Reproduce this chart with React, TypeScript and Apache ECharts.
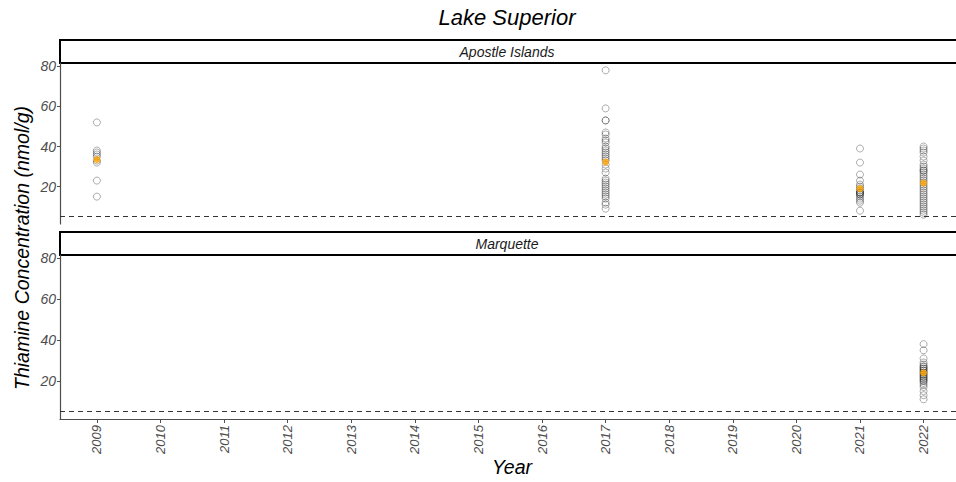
import { useEffect, useRef } from "react";
import * as echarts from "echarts";

// Tick labels
const years = [2009, 2010, 2011, 2012, 2013, 2014, 2015, 2016, 2017, 2018, 2019, 2020, 2021, 2022];
const yTicks = [20, 40, 60, 80];

// Threshold line (nmol/g)
const threshold = 5;

// Apostle Islands samples by year
const apostle2009 = [52, 38, 37, 36, 35, 33, 32, 23, 15];
const apostle2017 = [78, 59, 53, 53, 47, 46, 44, 43, 42, 40, 39, 38, 37, 36, 35, 34, 33, 31, 29, 27, 24, 23, 22, 21, 20, 19, 18, 17, 16, 15, 14, 12, 11, 9];
const apostle2021 = [39, 32, 26, 23, 21, 20, 19, 18, 17, 17, 17, 16, 16, 15, 14, 13, 12, 8];
const apostle2022 = [40, 39, 38, 37, 35, 33, 31, 30, 29, 28, 28, 27, 26, 25, 24, 23, 22, 21, 20, 19, 18, 17, 16, 15, 14, 13, 12, 11, 10, 9, 8, 7, 6];

// Marquette samples by year
const marquette2022 = [38, 35, 31, 29, 28, 27, 27, 26, 26, 25, 25, 24, 24, 23, 23, 22, 22, 21, 21, 20, 20, 19, 18, 17, 15, 13, 11];

// Yearly means
const apostleMeanYears = [2009, 2017, 2021, 2022];
const apostleMeans = [33.5, 32.3, 19.0, 21.8];
const marquetteMeanYears = [2022];
const marquetteMeans = [24.0];

const FONT = "'Liberation Sans', Arial, sans-serif";
const X_MIN = 2008.42;
const X_MAX = 2022.51;
const Y_MIN = 1.35;
const Y_MAX = 81.65;

const toPoints = (year: number, vals: number[]) => vals.map((v) => [year, v]);
const pairs = (xs: number[], ys: number[]) => xs.map((x, i) => [x, ys[i]]);

const hollow = {
  type: "scatter",
  symbol: "circle",
  symbolSize: 7,
  itemStyle: { color: "rgba(0,0,0,0)", borderColor: "rgba(0,0,0,0.4)", borderWidth: 1 },
  emphasis: { disabled: true },
  silent: true,
};

const meanStyle = {
  type: "scatter",
  symbol: "circle",
  symbolSize: 7,
  itemStyle: { color: "#FFA500", borderWidth: 0 },
  z: 5,
  silent: true,
};

const dashLine = {
  silent: true,
  symbol: ["none", "none"],
  label: { show: false },
  lineStyle: { type: [5, 4], color: "#333333", width: 1 },
  data: [{ yAxis: threshold }],
};

export default function App() {
  const ref = useRef<HTMLDivElement>(null);

  useEffect(() => {
    if (!ref.current) return;
    const chart = echarts.init(ref.current, undefined, { renderer: "svg" });

    const yAxisBase = {
      type: "value",
      min: Y_MIN,
      max: Y_MAX,
      splitLine: { show: false },
      axisLine: { show: true, lineStyle: { color: "#4d4d4d", width: 1.2 } },
      axisTick: { show: true, length: 3, lineStyle: { color: "#4d4d4d" }, customValues: yTicks },
      axisLabel: {
        customValues: yTicks,
        color: "#4d4d4d",
        fontSize: 14,
        fontStyle: "italic",
        fontFamily: FONT,
        margin: 4,
      },
    };

    const strip = (top: number, label: string) => ({
      type: "group",
      children: [
        {
          type: "rect",
          shape: { x: 60, y: top, width: 905, height: 23 },
          style: { fill: "#ffffff", stroke: "#000000", lineWidth: 2 },
        },
        {
          type: "text",
          x: 507,
          y: top + 12,
          style: {
            text: label,
            fill: "#1a1a1a",
            fontSize: 14,
            fontStyle: "italic",
            fontFamily: FONT,
            textAlign: "center",
            textVerticalAlign: "middle",
          },
        },
      ],
    });

    chart.setOption({
      animation: false,
      backgroundColor: "#ffffff",
      grid: [
        { left: 60, top: 63, width: 905, height: 161 },
        { left: 60, top: 255, width: 905, height: 164 },
      ],
      xAxis: [
        {
          type: "value",
          gridIndex: 0,
          min: X_MIN,
          max: X_MAX,
          splitLine: { show: false },
          axisLine: { show: false },
          axisTick: { show: false },
          axisLabel: { show: false },
        },
        {
          type: "value",
          gridIndex: 1,
          min: X_MIN,
          max: X_MAX,
          splitLine: { show: false },
          axisLine: { show: true, lineStyle: { color: "#4d4d4d", width: 1.2 } },
          axisTick: { show: true, length: 4, lineStyle: { color: "#4d4d4d" }, customValues: years },
          axisLabel: {
            customValues: years,
            rotate: 90,
            color: "#4d4d4d",
            fontSize: 13,
            fontStyle: "italic",
            fontFamily: FONT,
            margin: 6,
            formatter: (v: number) => String(Math.round(v)),
          },
        },
      ],
      yAxis: [
        { ...yAxisBase, gridIndex: 0 },
        { ...yAxisBase, gridIndex: 1 },
      ],
      series: [
        {
          ...hollow,
          name: "Apostle Islands",
          xAxisIndex: 0,
          yAxisIndex: 0,
          data: [
            ...toPoints(2009, apostle2009),
            ...toPoints(2017, apostle2017),
            ...toPoints(2021, apostle2021),
            ...toPoints(2022, apostle2022),
          ],
          markLine: dashLine,
        },
        {
          ...meanStyle,
          name: "Apostle Islands mean",
          xAxisIndex: 0,
          yAxisIndex: 0,
          data: pairs(apostleMeanYears, apostleMeans),
        },
        {
          ...hollow,
          name: "Marquette",
          xAxisIndex: 1,
          yAxisIndex: 1,
          data: toPoints(2022, marquette2022),
          markLine: dashLine,
        },
        {
          ...meanStyle,
          name: "Marquette mean",
          xAxisIndex: 1,
          yAxisIndex: 1,
          data: pairs(marquetteMeanYears, marquetteMeans),
        },
      ],
      graphic: [
        strip(40, "Apostle Islands"),
        strip(232, "Marquette"),
        {
          type: "text",
          x: 507,
          y: 17,
          style: {
            text: "Lake Superior",
            fill: "#000000",
            fontSize: 22,
            fontStyle: "italic",
            fontFamily: FONT,
            textAlign: "center",
            textVerticalAlign: "middle",
          },
        },
        {
          type: "text",
          x: 22,
          y: 248,
          rotation: Math.PI / 2,
          style: {
            text: "Thiamine Concentration (nmol/g)",
            fill: "#000000",
            fontSize: 19.5,
            fontStyle: "italic",
            fontFamily: FONT,
            textAlign: "center",
            textVerticalAlign: "middle",
          },
        },
        {
          type: "text",
          x: 512,
          y: 467,
          style: {
            text: "Year",
            fill: "#000000",
            fontSize: 19.5,
            fontStyle: "italic",
            fontFamily: FONT,
            textAlign: "center",
            textVerticalAlign: "middle",
          },
        },
      ],
    });

    return () => chart.dispose();
  }, []);

  return <div ref={ref} style={{ width: 956, height: 482, position: "absolute", left: 0, top: 0 }} />;
}
